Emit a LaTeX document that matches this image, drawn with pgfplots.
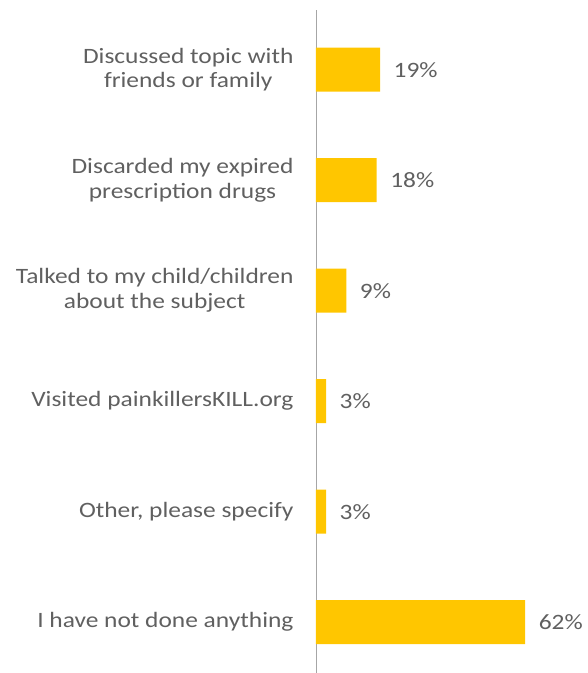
\documentclass[border=0pt]{standalone}
\usepackage{pgfplots}
\pgfplotsset{compat=1.18}
\usepackage{fontspec}
\setmainfont{Carlito}[FakeStretch=1.16]
\definecolor{bargold}{HTML}{FFC600}
\definecolor{txtgray}{HTML}{606060}
\begin{document}
\begin{tikzpicture}
\path[use as bounding box] (-316bp,0bp) rectangle (272bp,673bp);
\begin{axis}[
  at={(0,0)}, anchor=south west,
  scale only axis,
  width=270bp, height=663bp,
  xbar, bar width=44bp,
  xmin=0, xmax=80,
  ymin=-0.46, ymax=5.54,
  hide x axis,
  axis y line*=left,
  y axis line style={draw=gray!70, line width=0.8pt, -},
  ytick={0,1,2,3,4,5},
  yticklabels={I have not done anything, Other{,} please specify, Visited painkillersKILL.org, Talked to my child/children\\about the subject, Discarded my expired\\prescription drugs, Discussed topic with\\friends or family},
  yticklabel style={align=center, font=\fontsize{22}{25}\selectfont, text=txtgray, xshift=-19bp},
  major tick length=0pt,
  tick label style={/pgf/number format/assume math mode=true},
  nodes near coords={\pgfplotspointmeta\%},
  nodes near coords align={horizontal},
  nodes near coords style={font=\fontsize{22}{25}\selectfont, text=txtgray, anchor=west, xshift=10bp},
  point meta=explicit symbolic,
]
\addplot[fill=bargold, draw=none] coordinates {
  (62,0) [62]
  (3,1) [3]
  (3,2) [3]
  (9,3) [9]
  (18,4) [18]
  (19,5) [19]
};
\end{axis}
\end{tikzpicture}
\end{document}
